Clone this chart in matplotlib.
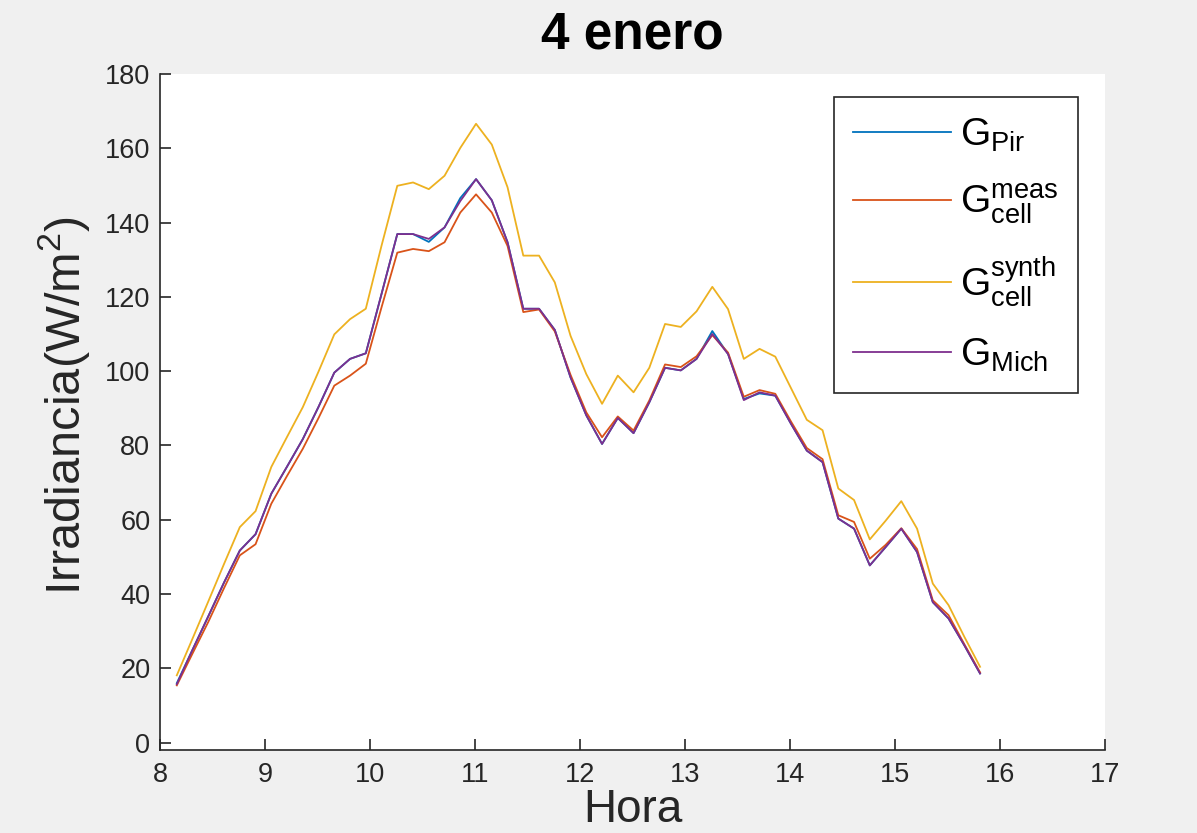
import matplotlib
matplotlib.use('Agg')
import matplotlib.pyplot as plt

plt.rcParams['font.family'] = ['Liberation Sans', 'DejaVu Sans']
plt.rcParams['mathtext.fontset'] = 'custom'
plt.rcParams['mathtext.rm'] = 'Liberation Sans'
plt.rcParams['mathtext.it'] = 'Liberation Sans:italic'
plt.rcParams['mathtext.bf'] = 'Liberation Sans:bold'

hora = [8.16, 8.31, 8.46, 8.61, 8.76, 8.91, 9.06, 9.21, 9.36, 9.51,
        9.66, 9.81, 9.96, 10.11, 10.26, 10.41, 10.56, 10.71, 10.86, 11.01,
        11.16, 11.31, 11.46, 11.61, 11.76, 11.91, 12.06, 12.21, 12.36, 12.51,
        12.66, 12.81, 12.96, 13.11, 13.26, 13.41, 13.56, 13.71, 13.86, 14.01,
        14.16, 14.31, 14.46, 14.61, 14.76, 14.91, 15.06, 15.21, 15.36, 15.51,
        15.66, 15.81]

g_pir = [16.0, 25.0, 34.0, 43.1, 51.7, 56.1, 67.0, 74.3, 81.7, 90.4,
         99.6, 103.3, 104.8, 120.8, 136.9, 136.9, 134.8, 138.7, 146.6, 151.7,
         146.0, 134.7, 116.8, 116.8, 111.1, 98.3, 88.1, 80.4, 87.4, 83.3,
         91.6, 100.9, 100.2, 103.3, 110.8, 104.6, 92.5, 94.0, 93.4, 85.8,
         78.6, 75.5, 60.3, 57.6, 47.7, 52.6, 57.6, 51.3, 37.8, 33.4,
         26.2, 18.6]

g_meas = [15.4, 24.0, 32.5, 41.6, 50.4, 53.4, 64.3, 71.8, 79.1, 87.4,
          96.1, 98.8, 102.0, 117.2, 131.9, 132.9, 132.3, 134.7, 142.7, 147.6,
          142.7, 133.7, 115.9, 116.6, 110.7, 99.0, 88.9, 82.2, 87.8, 84.0,
          92.1, 101.8, 101.1, 104.0, 109.7, 105.0, 93.1, 94.9, 93.9, 86.4,
          79.3, 76.3, 61.2, 59.4, 49.5, 53.2, 57.7, 52.1, 38.3, 34.3,
          26.5, 18.9]

g_synth = [18.1, 28.0, 38.0, 48.1, 58.0, 62.3, 74.2, 82.3, 90.3, 99.9,
           109.9, 114.0, 116.8, 133.8, 149.9, 150.8, 149.0, 152.6, 160.1, 166.6,
           161.0, 149.5, 131.1, 131.1, 123.9, 109.5, 99.2, 91.2, 98.8, 94.3,
           100.9, 112.7, 111.9, 116.1, 122.7, 116.7, 103.3, 106.0, 103.9, 95.4,
           86.9, 84.1, 68.4, 65.3, 54.7, 59.7, 65.0, 57.6, 42.8, 37.0,
           28.5, 20.4]

g_mich = [15.7, 25.0, 34.0, 43.1, 51.7, 56.1, 67.0, 74.3, 81.7, 90.4,
          99.6, 103.3, 104.8, 120.8, 136.9, 136.9, 135.6, 138.7, 145.8, 151.7,
          146.0, 134.7, 116.8, 116.8, 111.1, 98.3, 88.1, 80.4, 87.4, 83.3,
          91.6, 100.9, 100.2, 103.3, 110.0, 104.6, 92.2, 94.3, 93.4, 85.8,
          78.6, 75.5, 60.3, 57.6, 47.7, 52.6, 57.6, 51.3, 37.8, 33.4,
          26.2, 18.6]

labels = [r'$\mathrm{G}_{\mathrm{Pir}}$',
          r'$\mathrm{G}^{\mathrm{meas}}_{\mathrm{cell}}$',
          r'$\mathrm{G}^{\mathrm{synth}}_{\mathrm{cell}}$',
          r'$\mathrm{G}_{\mathrm{Mich}}$']
colors = ['#0072BD', '#D95319', '#EDB120', '#7E2F8E']
x_ticks = list(range(8, 18))
y_ticks = list(range(0, 181, 20))

fig = plt.figure(figsize=(11.97, 8.33), dpi=100, facecolor='#f0f0f0')
ax = fig.add_axes([160 / 1197, 1 - 750 / 833, 945 / 1197, 676 / 833])
ax.set_facecolor('white')

for series, lab, col in zip([g_pir, g_meas, g_synth, g_mich], labels, colors):
    ax.plot(hora, series, color=col, lw=1.3, label=lab)

ax.set_xlim(8, 17)
ax.set_ylim(-2.0, 180)
ax.set_xticks(x_ticks)
ax.set_yticks(y_ticks)

for s in ['top', 'right']:
    ax.spines[s].set_visible(False)
for s in ['left', 'bottom']:
    ax.spines[s].set_color('#262626')
    ax.spines[s].set_linewidth(1.2)

ax.tick_params(direction='in', length=8, width=1.2, color='#262626',
               labelcolor='#262626', labelsize=19.5)
ax.tick_params(axis='x', pad=9)
ax.tick_params(axis='y', pad=7)

ax.set_ylabel(r'Irradiancia(W/m$^2$)', fontsize=35, color='#262626')
ax.yaxis.set_label_coords(-0.072, 0.51)
ax.set_xlabel('Hora', fontsize=33, color='#262626', va='top')
ax.xaxis.set_label_coords(0.5, -0.056)

fig.text(632 / 1197, 1 - 35 / 833, '4 enero', ha='center', va='center',
         fontsize=37, fontweight='bold', color='black')

leg = ax.legend(loc='upper right', bbox_to_anchor=(0.9714, 0.966),
                borderaxespad=0, fontsize=28, handlelength=2.5,
                handletextpad=0.25, labelspacing=0.72, fancybox=False,
                framealpha=1, edgecolor='#262626', borderpad=0.5)
leg.get_frame().set_linewidth(1.2)

fig.savefig('out.png', dpi=100, facecolor=fig.get_facecolor())
